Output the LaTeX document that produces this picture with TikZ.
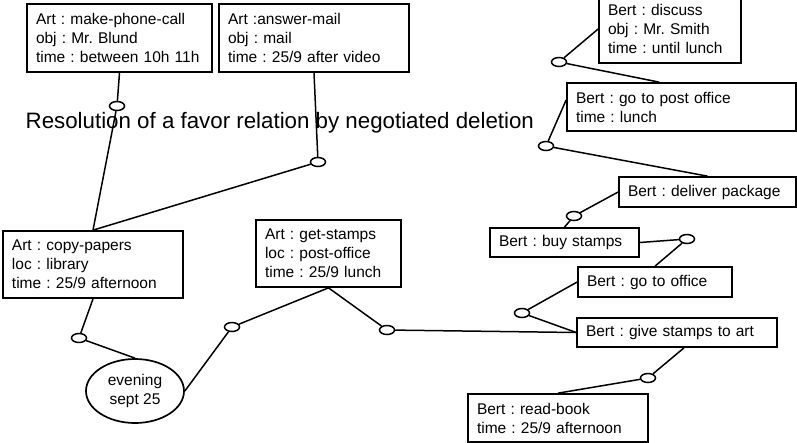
\documentclass[tikz,border=0pt]{standalone}
\usepackage{fontspec}
\setmainfont{Liberation Sans}
\usetikzlibrary{shapes.geometric}
\begin{document}
\frenchspacing
\begin{tikzpicture}[x=1pt,y=-1pt,
  box/.style={draw,line width=1.7pt,rectangle,inner xsep=9pt,inner ysep=0pt,align=left,font=\fontsize{15.5}{19}\selectfont\frenchspacing},
  knot/.style={draw,ellipse,line width=1.5pt,minimum width=15pt,minimum height=9pt,inner sep=0pt},
  link/.style={line width=1.5pt}]
\useasboundingbox (0,0) rectangle (797,442);

\node[box,minimum width=185pt,minimum height=68pt,text width=167pt] (mpc) at (119.5,38) {Art : make-phone-call\\obj : Mr. Blund\\time : between 10h 11h};
\node[box,minimum width=190pt,minimum height=68pt,text width=172pt] (am) at (314,38) {Art :answer-mail\\obj : mail\\time : 25/9 after video};
\node[box,minimum width=142pt,minimum height=68pt,text width=124pt] (disc) at (670,29) {Bert : discuss\\obj : Mr. Smith\\time : until lunch};
\node[box,minimum width=229pt,minimum height=48pt,text width=211pt] (gpo) at (681.5,107) {Bert : go to post office\\time : lunch};
\node[box,minimum width=177pt,minimum height=30pt,text width=159pt] (dp) at (707.5,192) {Bert : deliver package};
\node[box,minimum width=149pt,minimum height=29pt,text width=131pt] (bs) at (564.5,242.5) {Bert : buy stamps};
\node[box,minimum width=154pt,minimum height=30pt,text width=136pt] (gto) at (655,282) {Bert : go to office};
\node[box,minimum width=200pt,minimum height=29pt,text width=182pt] (gsa) at (677,332.5) {Bert : give stamps to art};
\node[box,minimum width=180pt,minimum height=48pt,text width=162pt] (rb) at (558,418) {Bert : read-book\\time : 25/9 afternoon};
\node[box,minimum width=180pt,minimum height=67pt,text width=162pt] (cp) at (93,264.5) {Art : copy-papers\\loc : library\\time : 25/9 afternoon};
\node[box,minimum width=145pt,minimum height=67pt,text width=127pt] (gs) at (328.5,253.5) {Art : get-stamps\\loc : post-office\\time : 25/9 lunch};
\node[draw,ellipse,line width=1.7pt,minimum width=98pt,minimum height=64pt,inner sep=0pt,align=center,font=\fontsize{15.5}{19}\selectfont] (ev) at (135,391) {evening\\sept 25};

\node[anchor=base west,font=\fontsize{22.3}{26}\selectfont,inner sep=0pt] (title) at (25.5,128) {Resolution of a favor relation by negotiated deletion};

\node[knot] (c1) at (117,106) {};
\node[knot] (c2) at (318,162) {};
\node[knot] (c3) at (559,62) {};
\node[knot] (c4) at (546,146) {};
\node[knot] (c5) at (574,216) {};
\node[knot] (c6) at (687,239) {};
\node[knot] (c7) at (522,313) {};
\node[knot] (c8) at (387,330) {};
\node[knot] (c9) at (648,378) {};
\node[knot] (c10) at (79,338) {};
\node[knot] (c11) at (232,327) {};

\draw[link] (mpc.south) -- (c1) -- (cp.north);
\draw[link] (am.south) -- (c2) -- (cp.north);
\draw[link] (disc.west) -- (c3) -- ([xshift=93pt]gpo.north west);
\draw[link] ([yshift=7pt]gpo.west) -- (c4) -- (dp.north);
\draw[link] (dp.west) -- (c5) -- (bs.north);
\draw[link] (bs.east) -- (c6) -- (gto.north);
\draw[link] (gto.west) -- (c7) -- (gsa.west);
\draw[link] (gs.south) -- (c8) -- (gsa.west);
\draw[link] (gs.south) -- (c11) -- (ev.east);
\draw[link] (cp.south) -- (c10) -- (ev.north);
\draw[link] ([xshift=7pt]gsa.south) -- (c9) -- (rb.north);
\end{tikzpicture}
\end{document}
